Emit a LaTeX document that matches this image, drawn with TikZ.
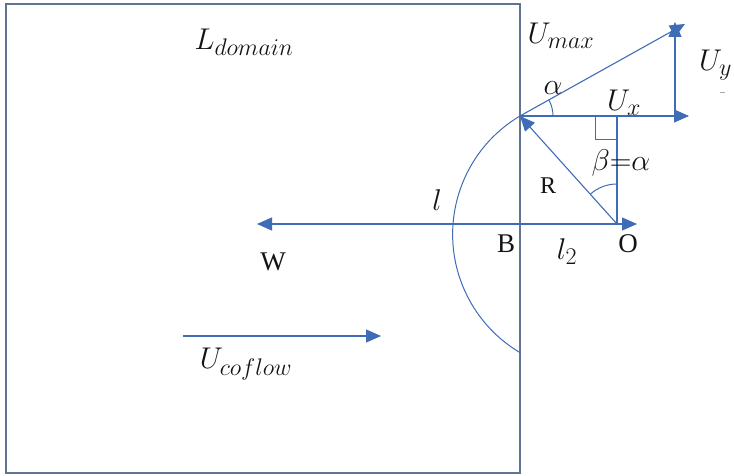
\RequirePackage{fix-cm}
\documentclass[tikz,border=0pt]{standalone}
\usepackage{fontspec}
\newfontfamily\lserif{Liberation Serif}
\usetikzlibrary{arrows.meta}
\DeclareMathSizes{30}{30}{24}{17}
\definecolor{lineblue}{RGB}{62,108,182}
\definecolor{boxgray}{RGB}{96,116,146}
\definecolor{txt}{RGB}{20,20,20}
\begin{document}
\begin{tikzpicture}[x=1pt,y=1pt,
  conn/.style={draw=lineblue,line width=1.1pt},
  arr/.style={conn,-{Triangle[length=15pt,width=13pt]}},
  mlabel/.style={text=txt,inner sep=0pt,font=\fontsize{30}{32}\selectfont},
  tlabel/.style={text=txt,inner sep=0pt,font=\lserif\fontsize{27}{29}\selectfont}]
\useasboundingbox (0,0) rectangle (734,476);
% domain box
\draw[draw=boxgray,line width=1.6pt] (6,3) rectangle (520,472);
% key points
\coordinate (P) at (520,360);
\coordinate (O) at (617,252);
\coordinate (Otip) at (637,252);
\coordinate (Wtip) at (257,252);
\coordinate (Top) at (617,360);
\coordinate (Uxtip) at (689,360);
\coordinate (Uybase) at (675,360);
\coordinate (Uytip) at (675,454);
\coordinate (Umtip) at (685,452);
\coordinate (Cfs) at (183,140);
\coordinate (Cfe) at (381,140);
% big arc
\draw[conn,line width=1pt] (P) arc[start angle=120.7,end angle=239.5,radius=137.6];
% horizontal W -- O
\draw[arr] (P |- O) -- (Otip);
\draw[arr] (P |- O) -- (Wtip);
% vertical from O
\draw[conn] (O) -- (Top);
% right angle mark
\draw[conn,line width=1pt] (595,360) -- (595,336) -- (617,336);
% R
\draw[arr] (O) -- (P);
% Ux
\draw[arr] (P) -- (Uxtip);
% Uy
\draw[arr] (Uybase) -- (Uytip);
% Umax
\draw[arr] (P) -- (Umtip);
% angle arcs
\draw[conn,line width=1pt] (553,360) arc[start angle=0,end angle=29,radius=33];
\draw[conn,line width=1pt] (617,292) arc[start angle=90,end angle=132,radius=40];
% coflow
\draw[arr] (Cfs) -- (Cfe);
% labels
\node[mlabel] (Ld) at (244,434) {$L_{domain}$};
\node[mlabel] (Um) at (561,440) {$U_{max}$};
\node[mlabel,anchor=base west] (Uy) at (699,405) {$U_y$};
\draw[draw=gray!70,line width=0.6pt] (720,384) -- (725,384);
\node[mlabel] (al) at (553,388) {$\alpha$};
\node[mlabel] (Ux) at (624,373) {$U_x$};
\node[mlabel] (be) at (621,313) {$\beta{=}\alpha$};
\node[tlabel,font=\lserif\fontsize{24}{26}\selectfont] (R) at (548,290) {R};
\node[mlabel] (l) at (437,276) {$l$};
\node[tlabel] (B) at (506,232) {B};
\node[mlabel] (l2) at (567,224) {$l_2$};
\node[tlabel] (Ol) at (628,232) {O};
\node[tlabel] (W) at (273,214) {W};
\node[mlabel] (Uc) at (246,112) {$U_{coflow}$};
\end{tikzpicture}
\end{document}
